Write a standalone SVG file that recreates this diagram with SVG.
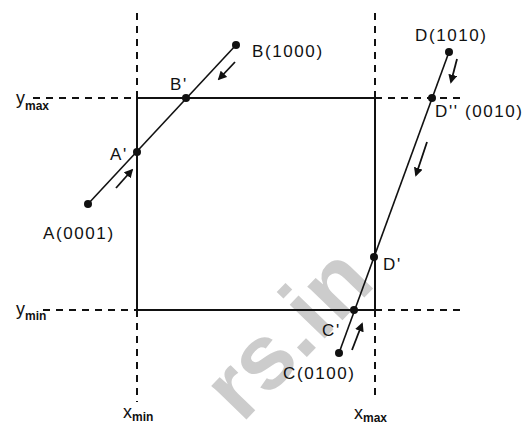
<svg xmlns="http://www.w3.org/2000/svg" width="527" height="427" viewBox="0 0 527 427">
<style>
.lbl{font-family:"Liberation Sans",Arial,sans-serif;font-size:17px;fill:#111;letter-spacing:1.6px}
.ax{font-family:"Liberation Sans",Arial,sans-serif;font-size:18px;fill:#111}
.sub{font-family:"Liberation Sans",Arial,sans-serif;font-size:12px;fill:#111;font-weight:bold}
.dash{stroke:#111;stroke-width:2;stroke-dasharray:7 6;fill:none}
.solid{stroke:#111;stroke-width:2;fill:none}
.seg{stroke:#111;stroke-width:1.6;fill:none}
.arr{stroke:#111;stroke-width:1.8;fill:none;marker-end:url(#ah)}
.pt{fill:#111}
.wm{font-family:"Liberation Sans",Arial,sans-serif;font-weight:bold;font-size:92px;fill:#cccccc}
</style>
<defs>
<marker id="ah" viewBox="0 0 10 10" refX="8" refY="5" markerWidth="5" markerHeight="5" orient="auto" markerUnits="strokeWidth">
<path d="M0,0 L10,5 L0,10 z" fill="#111"/>
</marker>
</defs>
<rect width="527" height="427" fill="#fff"/>
<text class="wm" transform="translate(242,424) rotate(-46)">rs.in</text>
<g id="guides">
<line class="dash" x1="137" y1="13" x2="137" y2="98"/>
<line class="dash" x1="137" y1="310" x2="137" y2="402"/>
<line class="dash" x1="375" y1="13" x2="375" y2="98"/>
<line class="dash" x1="375" y1="310" x2="375" y2="400"/>
<line class="dash" x1="33" y1="98" x2="137" y2="98"/>
<line class="dash" x1="375" y1="98" x2="462" y2="98"/>
<line class="dash" x1="43" y1="310" x2="137" y2="310"/>
<line class="dash" x1="375" y1="310" x2="462" y2="310"/>
<text class="ax" x="16" y="104">y<tspan class="sub" dy="6">max</tspan></text>
<text class="ax" x="16" y="315">y<tspan class="sub" dy="5">min</tspan></text>
<text class="ax" x="123" y="418">x<tspan class="sub" dy="3">min</tspan></text>
<text class="ax" x="354" y="419">x<tspan class="sub" dy="3">max</tspan></text>
</g>
<g id="window">
<rect class="solid" x="137" y="98" width="238" height="212"/>
</g>
<g id="connectors">
<line class="seg" x1="88" y1="204" x2="236" y2="45"/>
<line class="seg" x1="449" y1="52" x2="339" y2="353"/>
<line class="arr" x1="235" y1="62" x2="219" y2="79"/>
<line class="arr" x1="116" y1="188" x2="132" y2="170"/>
<line class="arr" x1="457" y1="59" x2="451" y2="82"/>
<line class="arr" x1="427" y1="142" x2="416" y2="175"/>
<line class="arr" x1="352" y1="350" x2="362" y2="324"/>
</g>
<g id="A"><circle class="pt" cx="88" cy="204" r="4"/><text class="lbl" x="43" y="239">A(0001)</text></g>
<g id="B"><circle class="pt" cx="236" cy="45" r="4"/><text class="lbl" x="252" y="57">B(1000)</text></g>
<g id="A1"><circle class="pt" cx="137" cy="152" r="4"/><text class="lbl" x="110" y="160">A'</text></g>
<g id="B1"><circle class="pt" cx="186" cy="98" r="4"/><text class="lbl" x="170" y="90">B'</text></g>
<g id="D"><circle class="pt" cx="449" cy="52" r="4"/><text class="lbl" x="415" y="41">D(1010)</text></g>
<g id="D2"><circle class="pt" cx="432" cy="98" r="4"/><text class="lbl" x="435" y="117">D'' (0010)</text></g>
<g id="D1"><circle class="pt" cx="374" cy="257" r="4"/><text class="lbl" x="383" y="270">D'</text></g>
<g id="C1"><circle class="pt" cx="354" cy="310" r="4"/><text class="lbl" x="322" y="336">C'</text></g>
<g id="C"><circle class="pt" cx="339" cy="353" r="4"/><text class="lbl" x="283" y="379">C(0100)</text></g>
</svg>
